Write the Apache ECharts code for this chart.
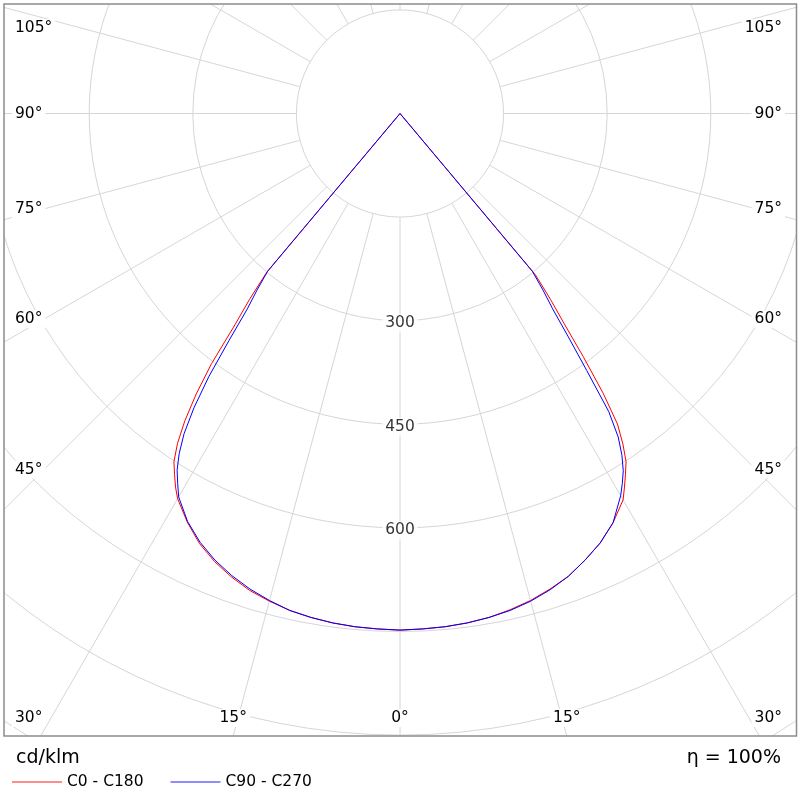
<!DOCTYPE html>
<html>
<head>
<meta charset="utf-8">
<title>Polar light distribution</title>
<script src="https://cdn.jsdelivr.net/npm/echarts@6/dist/echarts.min.js"></script>
<style>
	html, body { margin: 0; padding: 0; background: #fff; }
	#chart { width: 800px; height: 800px; }
</style>
</head>
<body>
<div id="chart"></div>
<script>

// gamma angles from nadir, degrees (finer where the beam cuts off)
var gammaAngles = [0, 2.5, 5, 7.5, 10, 12.5, 15, 17.5, 20, 22.5, 25, 27.5, 30, 31, 32, 33, 34, 35, 36, 37, 38, 39, 40, 42.5, 45];

// luminous intensity, cd/klm, one value per gamma angle
var c0Values   = [748, 747, 746, 744, 741, 736, 730, 722, 713, 700, 686, 668, 646, 631, 616, 601, 577, 549, 500, 441, 386, 346, 305, 0, 0];
var c180Values = [748, 747, 746, 744, 741, 737, 731, 724, 714, 702, 687, 667, 644, 631, 616, 601, 576, 543, 502, 453, 388, 346, 300, 0, 0];
var c90Values  = [748, 747, 746, 744, 741, 737, 731, 723, 713, 700, 686, 668, 639, 625, 610, 590, 565, 527, 460, 405, 359, 329, 298, 0, 0];
var c270Values = [748, 747, 746, 744, 741, 737, 730, 722, 712, 700, 685, 666, 641, 625, 609, 587, 559, 520, 471, 411, 359, 329, 298, 0, 0];

var seriesNames = ['C0 - C180', 'C90 - C270'];
var seriesColors = ['#ff0000', '#0000ff'];
var radiusLabels = [300, 450, 600];
var angleLabels = [0, 15, 30, 45, 60, 75, 90, 105];
var unitText = 'cd/klm';
var efficiencyText = 'η = 100%';

// layout
var CENTER = [400, 113.5];
var PX_PER_CD = 103.6 / 150;
var MAX_CD = 1200;
var FRAME = { left: 4, top: 4, right: 796.5, bottom: 736 };
var FONT = '"DejaVu Sans", Verdana, sans-serif';
var TEXT_COLOR = '#000';
var GRID_COLOR = '#d6d6d6';

/**
 * Builds one C-plane pair as [intensity, angle] points,
 * left half goes to negative angles, right half to positive
 */
function planePair(leftValues, rightValues){
	var out = [];
	for(var i = gammaAngles.length - 1; i > 0; i--){
		out.push([leftValues[i], -gammaAngles[i]]);
	}
	for(var j = 0; j < gammaAngles.length; j++){
		out.push([rightValues[j], gammaAngles[j]]);
	}
	return out;
}

var outerRadius = MAX_CD * PX_PER_CD;
var innerRadius = 150 * PX_PER_CD;

var hiddenAngle = {
	min: -180, max: 180, interval: 15,
	startAngle: 90, clockwise: false,
	axisLine: { show: false }, axisTick: { show: false }, axisLabel: { show: false }
};

var chart = echarts.init(document.getElementById('chart'), null, { renderer: 'canvas' });

chart.setOption({
	animation: false,
	backgroundColor: '#fff',
	polar: [
		{ center: CENTER, radius: [innerRadius, outerRadius] },
		{ center: CENTER, radius: outerRadius }
	],
	angleAxis: [
		Object.assign({ polarIndex: 0, splitLine: { show: true, lineStyle: { color: GRID_COLOR, width: 1 } } }, hiddenAngle),
		Object.assign({ polarIndex: 1, splitLine: { show: false } }, hiddenAngle)
	],
	radiusAxis: [
		{ polarIndex: 0, min: 0, max: MAX_CD, show: false, splitLine: { show: false } },
		{
			polarIndex: 1, min: 0, max: MAX_CD, interval: 150,
			axisLine: { show: false }, axisTick: { show: false }, axisLabel: { show: false },
			splitLine: { show: true, lineStyle: { color: GRID_COLOR, width: 1 } }
		}
	],
	legend: {
		data: seriesNames.map(function(n, i){
			return { name: n, icon: 'rect', itemStyle: { color: seriesColors[i], opacity: 0.6 } };
		}),
		left: 12, top: 773, padding: 0,
		itemWidth: 50, itemHeight: 1.6, itemGap: 27,
		selectedMode: false,
		textStyle: { fontSize: 15.5, fontFamily: FONT, color: TEXT_COLOR, lineHeight: 18 },
		z: 12
	},
	series: [
		{
			name: seriesNames[0], type: 'line', coordinateSystem: 'polar', polarIndex: 1,
			data: planePair(c180Values, c0Values),
			symbol: 'none', smooth: false, silent: true,
			lineStyle: { color: seriesColors[0], width: 1 }, itemStyle: { color: seriesColors[0] }, z: 3
		},
		{
			name: seriesNames[1], type: 'line', coordinateSystem: 'polar', polarIndex: 1,
			data: planePair(c270Values, c90Values),
			symbol: 'none', smooth: false, silent: true,
			lineStyle: { color: seriesColors[1], width: 1 }, itemStyle: { color: seriesColors[1] }, z: 4
		},
		{
			type: 'scatter', coordinateSystem: 'polar', polarIndex: 1,
			data: radiusLabels.map(function(v){ return [v, 0]; }),
			symbolSize: 1, itemStyle: { color: '#fff' }, silent: true, z: 5,
			label: {
				show: true, position: 'inside', offset: [0, 2.5],
				formatter: function(p){ return String(p.value[0]); },
				fontSize: 15.5, fontFamily: FONT, color: TEXT_COLOR,
				backgroundColor: '#fff', padding: [1, 3]
			}
		}
	]
});

// angle labels sit where each spoke leaves the frame, kept inside it
var origin = chart.convertToPixel({ seriesIndex: 0 }, [0, 0]);
var SIDE_INSET = 44, TEXT_LEFT = 12, TEXT_RIGHT = 785, TEXT_TOP = 28, TEXT_BOTTOM = 718;

function angleLabel(value){
	var p = chart.convertToPixel({ seriesIndex: 0 }, [150, value]);
	var dx = p[0] - origin[0], dy = p[1] - origin[1];
	var len = Math.sqrt(dx * dx + dy * dy);
	dx /= len; dy /= len;

	var tSide = Infinity;
	if(dx < -1e-9) tSide = (origin[0] - SIDE_INSET) / -dx;
	if(dx > 1e-9) tSide = (800 - SIDE_INSET - origin[0]) / dx;
	var tBottom = dy > 1e-9 ? (FRAME.bottom - origin[1]) / dy : Infinity;

	var x, y, align;
	if(tSide <= tBottom){
		y = Math.min(TEXT_BOTTOM, Math.max(TEXT_TOP, origin[1] + tSide * dy));
		x = dx < 0 ? TEXT_LEFT : TEXT_RIGHT;
		align = dx < 0 ? 'left' : 'right';
	} else {
		x = Math.min(767, Math.max(33, origin[0] + tBottom * dx));
		y = TEXT_BOTTOM;
		align = 'center';
	}
	return {
		type: 'text', x: x, y: y, z: 12, silent: true,
		style: {
			text: Math.abs(value) + '°',
			fontSize: 15.5, fontFamily: FONT, fill: TEXT_COLOR,
			align: align, textAlign: align,
			verticalAlign: 'middle', textVerticalAlign: 'middle',
			backgroundColor: '#fff', padding: [1, 3]
		}
	};
}

var graphics = [
	// white mask outside the frame
	{ type: 'rect', z: 10, silent: true, shape: { x: 0, y: 0, width: 800, height: FRAME.top }, style: { fill: '#fff' } },
	{ type: 'rect', z: 10, silent: true, shape: { x: 0, y: 0, width: FRAME.left, height: 800 }, style: { fill: '#fff' } },
	{ type: 'rect', z: 10, silent: true, shape: { x: FRAME.right, y: 0, width: 800 - FRAME.right, height: 800 }, style: { fill: '#fff' } },
	{ type: 'rect', z: 10, silent: true, shape: { x: 0, y: FRAME.bottom, width: 800, height: 800 - FRAME.bottom }, style: { fill: '#fff' } },
	{
		type: 'rect', z: 11, silent: true,
		shape: { x: FRAME.left, y: FRAME.top, width: FRAME.right - FRAME.left, height: FRAME.bottom - FRAME.top },
		style: { fill: 'none', stroke: '#8c8c8c', lineWidth: 1.5 }
	},
	{
		type: 'text', x: 16, y: 758, z: 12, silent: true,
		style: { text: unitText, fontSize: 19, fontFamily: FONT, fill: TEXT_COLOR, verticalAlign: 'middle', textVerticalAlign: 'middle' }
	},
	{
		type: 'text', x: 781, y: 758, z: 12, silent: true,
		style: { text: efficiencyText, fontSize: 19, fontFamily: FONT, fill: TEXT_COLOR, align: 'right', textAlign: 'right', verticalAlign: 'middle', textVerticalAlign: 'middle' }
	}
];

angleLabels.forEach(function(a){
	graphics.push(angleLabel(-a));
	if(a !== 0) graphics.push(angleLabel(a));
});

chart.setOption({ graphic: graphics });

</script>
</body>
</html>
